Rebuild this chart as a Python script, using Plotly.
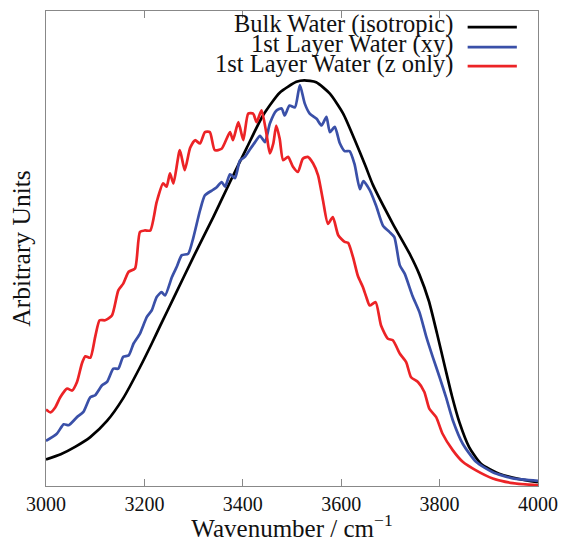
import plotly.graph_objects as go

# ---- data ----
bulk_x = [3000, 3030, 3060, 3090, 3124, 3157, 3191, 3215, 3232, 3260, 3300, 3340, 3374, 3408,
          3441, 3475, 3509, 3525, 3549, 3577, 3604, 3627, 3650, 3664, 3705, 3739, 3759, 3778,
          3795, 3811, 3825, 3840, 3860, 3884, 3921, 3960, 4000]
bulk_y = [0.056, 0.067, 0.083, 0.103, 0.137, 0.185, 0.250, 0.300, 0.337, 0.397, 0.483, 0.566,
          0.640, 0.712, 0.780, 0.828, 0.851, 0.854, 0.850, 0.826, 0.784, 0.730, 0.672, 0.635,
          0.552, 0.489, 0.445, 0.390, 0.320, 0.250, 0.190, 0.135, 0.082, 0.047, 0.026, 0.015,
          0.008]

xy_x = [3000, 3022, 3036, 3046, 3063, 3076, 3090, 3100, 3114, 3124, 3137, 3147, 3157, 3168,
        3178, 3191, 3205, 3215, 3225, 3235, 3242, 3256, 3266, 3276, 3289, 3299, 3313, 3323,
        3337, 3347, 3357, 3364, 3374, 3384, 3394, 3404, 3414, 3425, 3435, 3445, 3455, 3468,
        3479, 3485, 3495, 3506, 3516, 3526, 3536, 3550, 3560, 3570, 3577, 3587, 3597, 3607,
        3617, 3627, 3638, 3645, 3658, 3671, 3685, 3698, 3708, 3719, 3729, 3745, 3759, 3773,
        3786, 3800, 3813, 3827, 3847, 3874, 3908, 3949, 4000]
xy_y = [0.095, 0.110, 0.130, 0.128, 0.145, 0.156, 0.187, 0.191, 0.212, 0.219, 0.247, 0.247,
        0.272, 0.275, 0.300, 0.321, 0.356, 0.370, 0.398, 0.408, 0.401, 0.440, 0.462, 0.486,
        0.489, 0.521, 0.580, 0.612, 0.622, 0.629, 0.640, 0.630, 0.656, 0.648, 0.685, 0.693,
        0.708, 0.724, 0.737, 0.724, 0.763, 0.790, 0.795, 0.780, 0.801, 0.797, 0.844, 0.805,
        0.784, 0.773, 0.759, 0.777, 0.745, 0.756, 0.722, 0.705, 0.705, 0.678, 0.625, 0.642,
        0.623, 0.590, 0.548, 0.535, 0.524, 0.465, 0.447, 0.400, 0.366, 0.314, 0.272, 0.229,
        0.187, 0.138, 0.089, 0.051, 0.029, 0.016, 0.011]

z_x = [3000, 3009, 3019, 3029, 3043, 3053, 3063, 3073, 3080, 3090, 3100, 3109, 3120, 3134,
       3147, 3157, 3168, 3181, 3191, 3201, 3212, 3225, 3238, 3245, 3252, 3259, 3272, 3282,
       3293, 3303, 3313, 3323, 3333, 3343, 3357, 3374, 3380, 3391, 3401, 3411, 3421, 3428,
       3438, 3448, 3455, 3462, 3468, 3475, 3482, 3492, 3502, 3512, 3522, 3532, 3543, 3553,
       3563, 3573, 3583, 3594, 3607, 3614, 3624, 3634, 3644, 3651, 3658, 3670, 3681, 3695,
       3705, 3719, 3732, 3742, 3756, 3769, 3779, 3793, 3806, 3827, 3847, 3874, 3908, 3949,
       4000]
z_y = [0.161, 0.155, 0.166, 0.187, 0.205, 0.201, 0.219, 0.258, 0.273, 0.270, 0.314, 0.349,
       0.349, 0.359, 0.412, 0.426, 0.451, 0.458, 0.535, 0.538, 0.538, 0.598, 0.637, 0.630,
       0.658, 0.637, 0.707, 0.665, 0.712, 0.728, 0.721, 0.745, 0.745, 0.707, 0.710, 0.745,
       0.728, 0.766, 0.728, 0.784, 0.784, 0.766, 0.791, 0.742, 0.700, 0.721, 0.759, 0.731,
       0.686, 0.693, 0.672, 0.661, 0.689, 0.693, 0.679, 0.654, 0.601, 0.552, 0.566, 0.528,
       0.514, 0.512, 0.482, 0.442, 0.419, 0.398, 0.380, 0.387, 0.338, 0.310, 0.307, 0.279,
       0.261, 0.229, 0.219, 0.198, 0.163, 0.145, 0.110, 0.075, 0.051, 0.033, 0.016, 0.006,
       0.0015]

series_names = ["Bulk Water (isotropic)", "1st Layer Water (xy)", "1st Layer Water (z only)"]
series_colors = ["#000000", "#3a50a8", "#ec2326"]
x_ticks = [3000, 3200, 3400, 3600, 3800, 4000]

FONT = "Liberation Serif"

fig = go.Figure()
for xs, ys, name, col in zip([bulk_x, xy_x, z_x], [bulk_y, xy_y, z_y], series_names, series_colors):
    fig.add_trace(go.Scatter(x=xs, y=ys, mode="lines", name=name, showlegend=False, hoverinfo="skip",
                             line=dict(color=col, width=2.7, shape="spline", smoothing=0.6)))

# custom legend: right-aligned text with line sample to its right
leg_y_text = [0.972, 0.930, 0.889]
leg_y_line = [0.966, 0.924, 0.884]
for name, col, yt, yl in zip(series_names, series_colors, leg_y_text, leg_y_line):
    fig.add_annotation(x=0.831, y=yt, xref="paper", yref="paper", text=name, showarrow=False,
                       xanchor="right", yanchor="middle", font=dict(family=FONT, size=24.5, color="#111"))
    fig.add_shape(type="line", xref="paper", yref="paper", x0=0.857, x1=0.957, y0=yl, y1=yl,
                  line=dict(color=col, width=2.7))

fig.update_layout(
    width=561, height=542, autosize=False,
    margin=dict(l=46, r=23, t=11, b=56),
    paper_bgcolor="white", plot_bgcolor="white",
    font=dict(family=FONT, size=20, color="#111"),
)
fig.update_xaxes(range=[3000, 4000], tickvals=x_ticks, ticks="inside", ticklen=7, tickcolor="#888",
                 showline=True, linecolor="#888", linewidth=1.2, mirror="allticks", showgrid=False,
                 zeroline=False, automargin=False, tickfont=dict(family=FONT, size=20, color="#111"),
                 title=dict(text="Wavenumber / cm<sup>\u22121</sup>", font=dict(family=FONT, size=25), standoff=2))
fig.update_yaxes(range=[0, 1], showticklabels=False, ticks="", showline=True, linecolor="#888",
                 linewidth=1.2, mirror=True, showgrid=False, zeroline=False, automargin=False,
                 title=dict(text="Arbitrary Units", font=dict(family=FONT, size=25.5), standoff=6))

fig.write_html("out.html", config={"displayModeBar": False},
               post_script="document.body.style.margin='0';")
